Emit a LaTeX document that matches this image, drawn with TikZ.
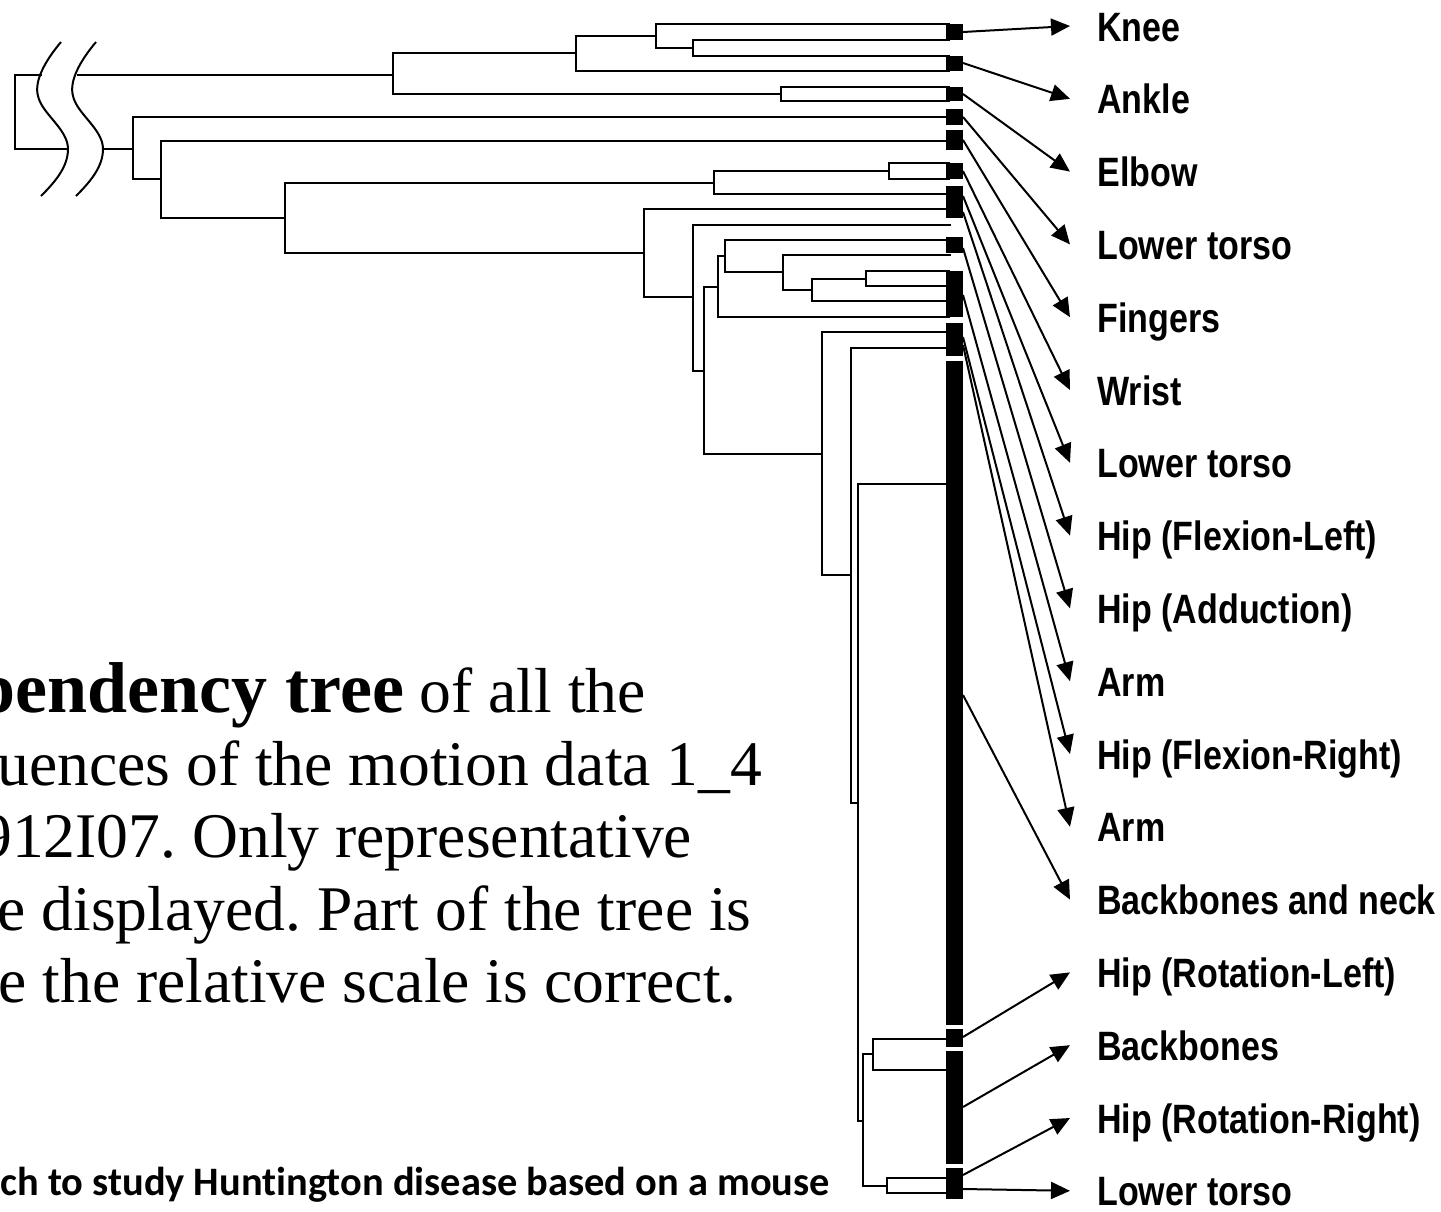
\documentclass[tikz,border=0pt]{standalone}
\usepackage{fontspec}
\setmainfont{Liberation Serif}
\newfontfamily\lblfont[FakeStretch=0.83]{Liberation Sans}
\newfontfamily\notefont[Ligatures=NoCommon]{Carlito}
\usetikzlibrary{arrows.meta,calc}
\frenchspacing

\tikzset{
  branch/.style={line width=1pt},
  pointer/.style={line width=1pt,-{Triangle[length=9.5pt,width=8.5pt]}},
  part/.style={inner sep=0pt,anchor=base west,
    font=\lblfont\bfseries\fontsize{20.5pt}{24pt}\selectfont},
  caption/.style={inner sep=0pt,anchor=base west,
    font=\fontsize{31.8pt}{36pt}\selectfont},
  note/.style={inner sep=0pt,anchor=base west,
    font=\notefont\bfseries\fontsize{20.2pt}{24pt}\selectfont},
}

\begin{document}
\begin{tikzpicture}[x=0.5pt,y=-0.5pt]
\useasboundingbox (0,0) rectangle (1441,1211);
\clip (0,0) rectangle (1441,1211);

% root with the break marks
\draw[branch] (42,75) -- (15,75) -- (15,149) -- (67,149);
\draw[branch] (77,75) -- (393,75);
\draw[branch] (103,149) -- (133,149);
\foreach \d in {0,35}
  \draw[branch,shift={(\d,-1)}] (61,43) .. controls (45,62) and (34,82) .. (38,97)
    .. controls (42,115) and (68,130) .. (68,150) .. controls (68,168) and (55,183) .. (41,197);

% clades: x / upper y / upper end / lower y / lower end
\foreach \x/\ya/\ea/\yb/\eb in {
  393/53/576/94/781, 576/36/656/71/950, 656/24/950/48/693, 693/40/950/56/950,
  781/87/950/101/950, 133/117/950/179/161, 161/141/950/218/285, 285/183/714/253/644,
  714/171/889/194/950, 889/163/950/179/950, 644/209/950/297/693, 693/225/951/371/704,
  704/287/718/454/822, 718/256/725/317/950, 725/240/950/272/783, 783/255/951/290/812,
  812/279/866/301/950, 866/271/950/286/950, 822/332/950/575/851, 851/348/950/803/858,
  858/484/947/1121/863, 863/1054/873/1186/887, 873/1039/947/1070/947, 887/1178/947/1193/947}
  \draw[branch] (\ea,\ya) -- (\x,\ya) -- (\x,\yb) -- (\eb,\yb);

% leaf groups
\foreach \a/\b in {24/40,56/71,87/101,109/125,130/150,163/179,186/218,237/253,
  271/317,323/356,361/1025,1029/1047,1051/1164,1168/1199}
  \fill (946,\a) rectangle (963,\b);

% body parts
\foreach \t [count=\i] in {Knee,Ankle,Elbow,Lower torso,Fingers,Wrist,Lower torso,
  Hip (Flexion-Left),Hip (Adduction),Arm,Hip (Flexion-Right),Arm,Backbones and neck,
  Hip (Rotation-Left),Backbones,Hip (Rotation-Right),Lower torso}
  \node[part] (l\i) at (1097,{41+72.8*(\i-1)}) {\t};

\foreach \i/\y in {1/32,2/63,3/94,4/117,5/140,6/171,7/196,8/212,9/248,10/295,
  11/337,12/345,13/695,14/1037,15/1107,16/1175,17/1189}
  \coordinate (s\i) at (963,\y);
\foreach \i in {1,...,17}
  \draw[pointer] (s\i) -- ([shift={(-27,-15)}]l\i.base west);

% caption text, cut at the left edge
\node[caption] (c1) at (-25,712) {{\fontsize{36pt}{40pt}\selectfont\bfseries pendency tree} of all the};
\node[caption] (c2) at (-3,785) {uences of the motion data 1\_4};
\node[caption] (c3) at (-20,857) {912I07. Only representative};
\node[caption] (c4) at (-3,930) {e displayed. Part of the tree is};
\node[caption] (c5) at (-2,1002) {e the relative scale is correct.};
\node[note] (c6) at (0,1195) {ch to study Huntington disease based on a mouse};
\end{tikzpicture}
\end{document}
